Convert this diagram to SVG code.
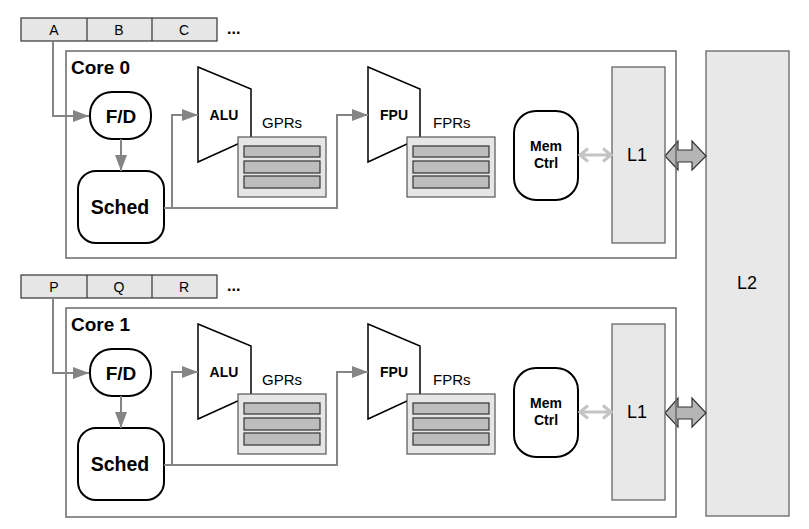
<svg xmlns="http://www.w3.org/2000/svg" width="809" height="529" viewBox="0 0 809 529">
<style>
text{font-family:"Liberation Sans",Arial,sans-serif;fill:#000}
.b{font-weight:bold}
.core{fill:none;stroke:#6a6a6a;stroke-width:1.5}
.strip{fill:#e6e6e6;stroke:#333;stroke-width:1.2}
.rr{fill:#fff;stroke:#000;stroke-width:2}
.unit{fill:#fff;stroke:#000;stroke-width:1.5}
.regbox{fill:#e6e6e6;stroke:#555;stroke-width:1.2}
.bar{fill:#bdbdbd;stroke:#333;stroke-width:1.2}
.cache{fill:#e8e8e8;stroke:#666;stroke-width:1.3}
.con{fill:none;stroke:#858585;stroke-width:2}
.mc{fill:none;stroke:#c4c4c4;stroke-width:3}
.blk{fill:#b5b5b5;stroke:#333;stroke-width:1.2}
</style>
<defs>
<marker id="ah" markerUnits="userSpaceOnUse" markerWidth="18" markerHeight="12" refX="16" refY="6" orient="auto">
<path d="M0,0 L16,6 L0,12 z" fill="#858585"/>
</marker>
<g id="regs">
<rect class="regbox" x="238" y="137" width="88" height="60"/>
<rect class="bar" x="244" y="146" width="76" height="11"/>
<rect class="bar" x="244" y="161" width="76" height="12"/>
<rect class="bar" x="244" y="176" width="76" height="12"/>
</g>
</defs>

<g id="L2">
<rect class="cache" x="706" y="51" width="83" height="465"/>
<text x="747" y="289" font-size="18" text-anchor="middle">L2</text>
</g>

<!-- Core 0 -->
<g id="strip0">
<rect class="strip" x="21" y="18" width="196" height="23"/>
<line x1="87" y1="18" x2="87" y2="41" stroke="#333" stroke-width="1.2"/>
<line x1="152" y1="18" x2="152" y2="41" stroke="#333" stroke-width="1.2"/>
<text x="54" y="35" font-size="14" text-anchor="middle">A</text>
<text x="119" y="35" font-size="14" text-anchor="middle">B</text>
<text x="184" y="35" font-size="14" text-anchor="middle">C</text>
<text x="227" y="34" font-size="16" class="b">...</text>
</g>
<g id="l1l2arrow0">
<polygon class="blk" points="665,156 678,141 678,150 692,150 692,141 706,156 692,170 692,162 678,162 678,170"/>
</g>
<g id="core0">
<rect class="core" x="66" y="51" width="610" height="207"/>
<text x="71" y="74" font-size="19" class="b">Core 0</text>
</g>
<g id="fd0">
<rect class="rr" x="90" y="92" width="61" height="47" rx="22" ry="22"/>
<text x="121" y="123" font-size="19" class="b" text-anchor="middle">F/D</text>
</g>
<g id="sched0">
<rect class="rr" x="78" y="171" width="86" height="72" rx="18" ry="18"/>
<text x="120" y="214" font-size="19.5" class="b" text-anchor="middle">Sched</text>
</g>
<g id="alu0">
<polygon class="unit" points="198,67 251,89 251,138 198,162"/>
<text x="224" y="120" font-size="14" class="b" text-anchor="middle">ALU</text>
</g>
<g id="gprs0">
<text x="262" y="128" font-size="15">GPRs</text>
<use href="#regs"/>
</g>
<g id="fpu0">
<polygon class="unit" points="368,67 420,89 420,138 368,162"/>
<text x="394" y="120" font-size="14" class="b" text-anchor="middle">FPU</text>
</g>
<g id="fprs0">
<text x="433" y="128" font-size="15">FPRs</text>
<use href="#regs" x="169"/>
</g>
<g id="memctrl0">
<rect class="rr" x="514" y="111" width="64" height="89" rx="22" ry="22"/>
<text x="546" y="151" font-size="14" class="b" text-anchor="middle">Mem</text>
<text x="546" y="168" font-size="14" class="b" text-anchor="middle">Ctrl</text>
</g>
<g id="L1_0">
<rect class="cache" x="612" y="67" width="53" height="176"/>
<text x="637" y="161" font-size="18" text-anchor="middle">L1</text>
</g>

<!-- Core 1 -->
<g id="strip1">
<rect class="strip" x="21" y="275" width="196" height="23"/>
<line x1="87" y1="275" x2="87" y2="298" stroke="#333" stroke-width="1.2"/>
<line x1="152" y1="275" x2="152" y2="298" stroke="#333" stroke-width="1.2"/>
<text x="54" y="292" font-size="14" text-anchor="middle">P</text>
<text x="119" y="292" font-size="14" text-anchor="middle">Q</text>
<text x="184" y="292" font-size="14" text-anchor="middle">R</text>
<text x="227" y="291" font-size="16" class="b">...</text>
</g>
<g id="l1l2arrow1" transform="translate(0,257)">
<polygon class="blk" points="665,156 678,141 678,150 692,150 692,141 706,156 692,170 692,162 678,162 678,170"/>
</g>
<g id="core1">
<rect class="core" x="66" y="308" width="610" height="209"/>
<text x="71" y="331" font-size="19" class="b">Core 1</text>
</g>
<g id="fd1" transform="translate(0,257)">
<rect class="rr" x="90" y="92" width="61" height="47" rx="22" ry="22"/>
<text x="121" y="123" font-size="19" class="b" text-anchor="middle">F/D</text>
</g>
<g id="sched1" transform="translate(0,257)">
<rect class="rr" x="78" y="171" width="86" height="72" rx="18" ry="18"/>
<text x="120" y="214" font-size="19.5" class="b" text-anchor="middle">Sched</text>
</g>
<g id="alu1" transform="translate(0,257)">
<polygon class="unit" points="198,67 251,89 251,138 198,162"/>
<text x="224" y="120" font-size="14" class="b" text-anchor="middle">ALU</text>
</g>
<g id="gprs1" transform="translate(0,257)">
<text x="262" y="128" font-size="15">GPRs</text>
<use href="#regs"/>
</g>
<g id="fpu1" transform="translate(0,257)">
<polygon class="unit" points="368,67 420,89 420,138 368,162"/>
<text x="394" y="120" font-size="14" class="b" text-anchor="middle">FPU</text>
</g>
<g id="fprs1" transform="translate(0,257)">
<text x="433" y="128" font-size="15">FPRs</text>
<use href="#regs" x="169"/>
</g>
<g id="memctrl1" transform="translate(0,257)">
<rect class="rr" x="514" y="111" width="64" height="89" rx="22" ry="22"/>
<text x="546" y="151" font-size="14" class="b" text-anchor="middle">Mem</text>
<text x="546" y="168" font-size="14" class="b" text-anchor="middle">Ctrl</text>
</g>
<g id="L1_1" transform="translate(0,257)">
<rect class="cache" x="612" y="67" width="53" height="176"/>
<text x="637" y="161" font-size="18" text-anchor="middle">L1</text>
</g>

<g id="connectors">
<path class="con" d="M53,41 V116 H89" marker-end="url(#ah)"/>
<path class="con" d="M121,139 V171" marker-end="url(#ah)"/>
<path class="con" d="M164,208 H337 V115 H368" marker-end="url(#ah)"/>
<path class="con" d="M172,208 V115 H198" marker-end="url(#ah)"/>
<path class="mc" d="M580,155 H611 M588,148.5 L580,155 L588,161.5 M603,148.5 L611,155 L603,161.5"/>
<g transform="translate(0,257)">
<path class="con" d="M53,41 V116 H89" marker-end="url(#ah)"/>
<path class="con" d="M121,139 V171" marker-end="url(#ah)"/>
<path class="con" d="M164,208 H337 V115 H368" marker-end="url(#ah)"/>
<path class="con" d="M172,208 V115 H198" marker-end="url(#ah)"/>
<path class="mc" d="M580,155 H611 M588,148.5 L580,155 L588,161.5 M603,148.5 L611,155 L603,161.5"/>
</g>
</g>
</svg>
